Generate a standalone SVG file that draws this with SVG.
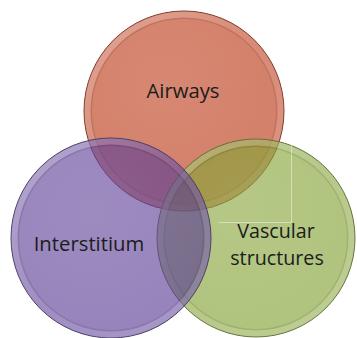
<svg xmlns="http://www.w3.org/2000/svg" width="357" height="338" viewBox="0 0 357 338">
<defs>
<linearGradient id="rim" x1="0" y1="0" x2="1" y2="1">
<stop offset="0" stop-color="#fff" stop-opacity="0.3"/>
<stop offset="0.5" stop-color="#fff" stop-opacity="0.08"/>
<stop offset="1" stop-color="#fff" stop-opacity="0.18"/>
</linearGradient>
<radialGradient id="gloss" cx="0.4" cy="0.35" r="0.65">
<stop offset="0" stop-color="#fff" stop-opacity="0.06"/>
<stop offset="1" stop-color="#fff" stop-opacity="0"/>
</radialGradient>
</defs>
<style>
.base{fill-opacity:0.62;stroke-width:1}
.rim{fill:none;stroke:url(#rim);stroke-width:6}
.inner{fill:none;stroke:#000;stroke-opacity:0.09;stroke-width:1.5}
.gl{fill:url(#gloss)}
.lbl{font-family:"Open Sans","Liberation Sans",sans-serif;font-size:20.3px;fill:#1c1c1c;text-anchor:middle}
.sm{font-size:19.7px}
</style>
<g id="airways">
<circle class="base" cx="184" cy="111" r="100" fill="rgb(185,50,14)" stroke="#7d3b2c"/>
<circle class="rim" cx="184" cy="111" r="96.5"/>
<circle class="inner" cx="184" cy="111" r="92.7"/>
<circle class="gl" cx="184" cy="111" r="92"/>
<text class="lbl" x="183" y="98">Airways</text>
</g>
<g id="vascular">
<circle class="base" cx="256" cy="238" r="99" fill="rgb(128,160,47)" stroke="#66703e"/>
<circle class="rim" cx="256" cy="238" r="95.5"/>
<circle class="inner" cx="256" cy="238" r="91.7"/>
<circle class="gl" cx="256" cy="238" r="91"/>
<text class="lbl sm" x="276" y="238">Vascular</text>
<text class="lbl sm" x="277" y="265">structures</text>
</g>
<g id="interstitium">
<circle class="base" cx="111" cy="238" r="100" fill="rgb(87,57,147)" stroke="#4d3f66"/>
<circle class="rim" cx="111" cy="238" r="96.5"/>
<circle class="inner" cx="111" cy="238" r="92.7"/>
<circle class="gl" cx="111" cy="238" r="92"/>
<text class="lbl" x="89" y="250.5">Interstitium</text>
</g>
<g id="connectors">
<path d="M218.5,222.5 H291.5 V140" fill="none" stroke="#fff" stroke-opacity="0.45" stroke-width="1"/>
</g>
</svg>
